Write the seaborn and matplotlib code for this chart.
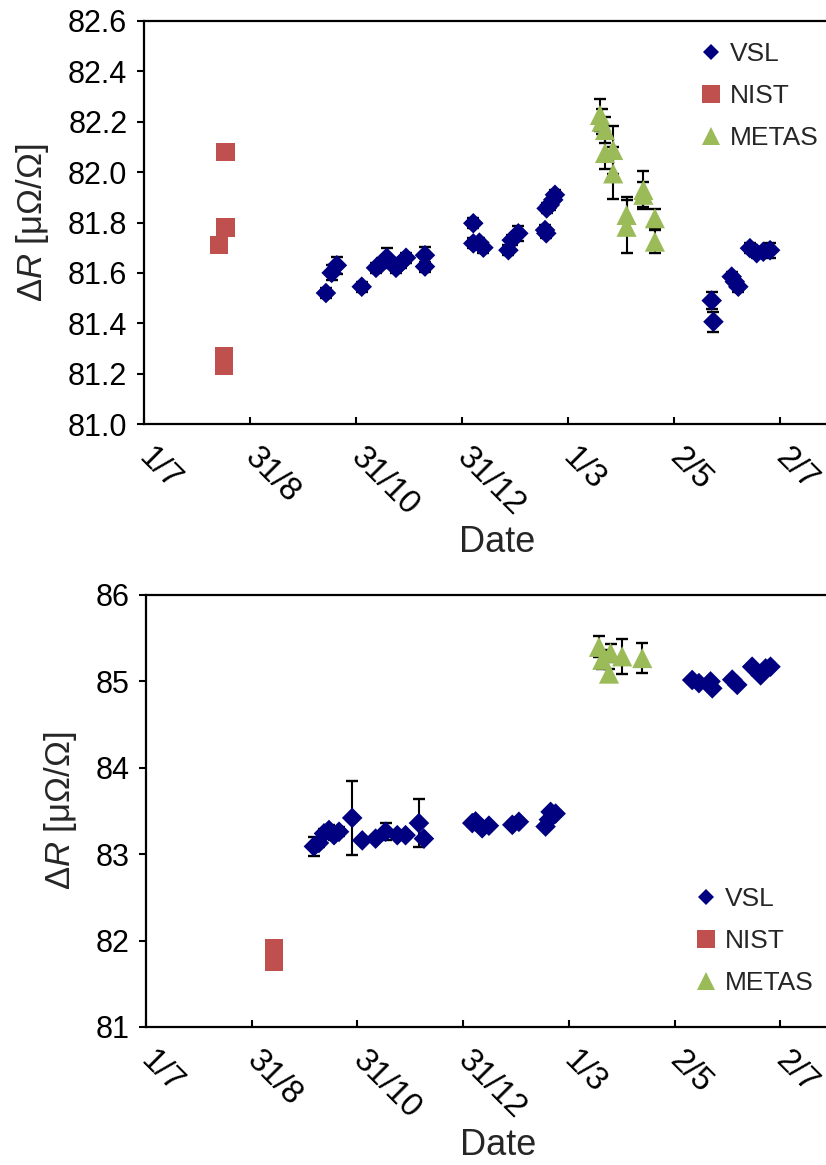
import matplotlib
matplotlib.use("Agg")
import numpy as np
import pandas as pd
import matplotlib.pyplot as plt
import seaborn as sns
from matplotlib.lines import Line2D

# ---------------- data (x = days counted from 1 July) ----------------
tick_days = [0, 61, 122, 183, 244, 305, 366]
tick_labels = ["1/7", "31/8", "31/10", "31/12", "1/3", "2/5", "2/7"]

# top panel
top_vsl_day = [104.7, 108.0, 111.0, 125.3, 133.5, 137.0, 139.7, 145.0, 148.0, 150.8, 161.7, 161.7,
               189.5, 189.5, 193.0, 195.3, 209.7, 211.6, 215.4, 230.8, 231.5, 231.7, 233.5, 235.5, 236.5,
               326.7, 327.7, 338.2, 340.0, 342.0, 348.7, 352.6, 356.4, 360.3]
top_vsl_val = [81.52, 81.60, 81.63, 81.545, 81.62, 81.64, 81.66, 81.62, 81.64, 81.66, 81.67, 81.625,
               81.797, 81.717, 81.72, 81.70, 81.69, 81.73, 81.757, 81.77, 81.757, 81.856, 81.87, 81.89, 81.91,
               81.49, 81.406, 81.585, 81.565, 81.545, 81.698, 81.678, 81.684, 81.69]
top_vsl_err = [0.02, 0.03, 0.033, 0.02, 0.02, 0.02, 0.037, 0.02, 0.02, 0.02, 0.033, 0.02,
               0.02, 0.02, 0.02, 0.02, 0.02, 0.02, 0.03, 0.02, 0.02, 0.02, 0.02, 0.02, 0.02,
               0.035, 0.04, 0.02, 0.02, 0.02, 0.02, 0.02, 0.02, 0.03]

top_nist_day = [47.0, 47.0, 43.0, 46.0, 46.0]
top_nist_val = [82.08, 81.78, 81.71, 81.27, 81.23]

top_metas_day = [262.4, 263.3, 265.3, 270.0, 265.3, 270.0, 277.7, 277.7, 287.4, 287.4, 294.0, 294.0]
top_metas_val = [82.227, 82.20, 82.167, 82.088, 82.076, 81.995, 81.83, 81.783, 81.929, 81.91, 81.817, 81.724]
top_metas_err = [0.065, 0.05, 0.05, 0.096, 0.062, 0.103, 0.07, 0.106, 0.075, 0.05, 0.037, 0.046]

# bottom panel
bot_vsl_day = [96.9, 99.8, 102.7, 105.6, 108.5, 111.4, 119.0, 124.8, 132.5, 138.3, 145.0, 149.8, 157.5, 160.4,
               188.3, 190.2, 194.0, 197.9, 211.4, 215.2, 230.6, 232.5, 233.5, 236.4,
               315.2, 319.1, 325.8, 326.8, 338.3, 341.2, 349.8, 354.7, 357.6, 360.4]
bot_vsl_val = [83.09, 83.13, 83.24, 83.28, 83.22, 83.26, 83.42, 83.16, 83.18, 83.26, 83.22, 83.22, 83.36, 83.18,
               83.36, 83.38, 83.30, 83.33, 83.34, 83.375, 83.32, 83.40, 83.49, 83.47,
               85.016, 84.98, 85.0, 84.92, 85.02, 84.96, 85.17, 85.07, 85.15, 85.17]
bot_vsl_err = [0.11, 0.05, 0.05, 0.06, 0.05, 0.05, 0.43, 0.03, 0.03, 0.10, 0.03, 0.03, 0.28, 0.03,
               0.03, 0.03, 0.03, 0.03, 0.03, 0.03, 0.03, 0.03, 0.03, 0.03,
               0.04, 0.03, 0.03, 0.03, 0.03, 0.03, 0.03, 0.03, 0.03, 0.04]

bot_nist_day = [73.9, 73.9]
bot_nist_val = [81.91, 81.76]

bot_metas_day = [261.4, 263.3, 268.1, 267.2, 274.8, 286.4]
bot_metas_val = [85.40, 85.25, 85.33, 85.09, 85.29, 85.27]
bot_metas_err = [0.12, 0.11, 0.10, 0.05, 0.20, 0.17]

top_yticks = [81.0, 81.2, 81.4, 81.6, 81.8, 82.0, 82.2, 82.4, 82.6]
bot_yticks = [81, 82, 83, 84, 85, 86]

labs = ["VSL", "NIST", "METAS"]
colors = {"VSL": "#000080", "NIST": "#C0504D", "METAS": "#9BBB59"}
markers = {"VSL": "D", "NIST": "s", "METAS": "^"}
sizes = {"VSL": 110, "NIST": 175, "METAS": 210}

# ---------------- style ----------------
sns.set_style("ticks")
plt.rcParams["font.family"] = ["Liberation Sans", "DejaVu Sans"]
plt.rcParams["mathtext.fontset"] = "custom"
plt.rcParams["mathtext.rm"] = "Liberation Sans"
plt.rcParams["mathtext.it"] = "Liberation Sans:italic"

W, H = 826, 1165
fig = plt.figure(figsize=(W / 100, H / 100), dpi=100)

XMAX = 406


def make_axes(left, top, bottom, px_per_day):
    width = XMAX * px_per_day
    return fig.add_axes([left / W, 1 - bottom / H, width / W, (bottom - top) / H])


def panel(ax, vd, vv, ve, nd, nv, md, mv, me, ylim, yticks, yfmt, leg_xy):
    df = pd.concat([
        pd.DataFrame({"day": vd, "val": vv, "lab": "VSL"}),
        pd.DataFrame({"day": nd, "val": nv, "lab": "NIST"}),
        pd.DataFrame({"day": md, "val": mv, "lab": "METAS"}),
    ], ignore_index=True)
    ax.errorbar(vd, vv, yerr=ve, fmt="none", ecolor="black", elinewidth=1.5,
                capsize=4.5, capthick=1.7, zorder=1.5)
    ax.errorbar(md, mv, yerr=me, fmt="none", ecolor="black", elinewidth=1.5,
                capsize=4.5, capthick=1.7, zorder=1.5)
    sns.scatterplot(data=df, x="day", y="val", hue="lab", style="lab", size="lab",
                    palette=colors, markers=markers, sizes=sizes, hue_order=labs,
                    style_order=labs, size_order=labs, linewidth=0, alpha=1,
                    legend=False, ax=ax, zorder=2)
    ax.set_xlim(0, XMAX)
    ax.set_ylim(*ylim)
    ax.set_yticks(yticks)
    ax.set_yticklabels([yfmt.format(t) for t in yticks])
    ax.set_xticks(tick_days)
    ax.set_xticklabels(tick_labels, rotation=-45, ha="left", va="center",
                       rotation_mode="anchor")
    for side in ["left", "bottom", "top"]:
        ax.spines[side].set_visible(True)
        ax.spines[side].set_linewidth(1.6)
        ax.spines[side].set_color("black")
    ax.spines["right"].set_visible(False)
    ax.tick_params(axis="y", direction="out", length=5, width=1.5, pad=7,
                   labelsize=22, colors="black", left=True, right=False)
    ax.tick_params(axis="x", direction="in", length=5, width=1.5, pad=21,
                   labelsize=23.5, colors="black", bottom=True, top=False)
    ax.set_xlabel("Date", fontsize=26, labelpad=2)
    ax.set_ylabel("Δ$\\mathit{R}$ [μΩ/Ω]", fontsize=25, labelpad=12)
    ax.grid(False)

    handles = [
        Line2D([], [], linestyle="none", marker="D", markersize=8.2,
               markerfacecolor=colors["VSL"], markeredgewidth=0),
        Line2D([], [], linestyle="none", marker="s", markersize=12.5,
               markerfacecolor=colors["NIST"], markeredgewidth=0),
        Line2D([], [], linestyle="none", marker="^", markersize=13,
               markerfacecolor=colors["METAS"], markeredgewidth=0),
    ]
    fig.legend(handles, labs, loc="upper left",
               bbox_to_anchor=(leg_xy[0] / W, 1 - leg_xy[1] / H),
               frameon=False, fontsize=19, handlelength=0.8, handletextpad=0.35,
               labelspacing=0.68, borderpad=0, borderaxespad=0)


ax1 = make_axes(144, 21, 424, 106 / 61)
panel(ax1, top_vsl_day, top_vsl_val, top_vsl_err, top_nist_day, top_nist_val,
      top_metas_day, top_metas_val, top_metas_err,
      (81.0, 82.6), top_yticks, "{:.1f}", (700, 42))

ax2 = make_axes(146, 595, 1027, 105.7 / 61)
panel(ax2, bot_vsl_day, bot_vsl_val, bot_vsl_err, bot_nist_day, bot_nist_val,
      bot_metas_day, bot_metas_val, bot_metas_err,
      (81, 86), bot_yticks, "{:d}", (695, 887))

fig.savefig("out.png", dpi=100)
